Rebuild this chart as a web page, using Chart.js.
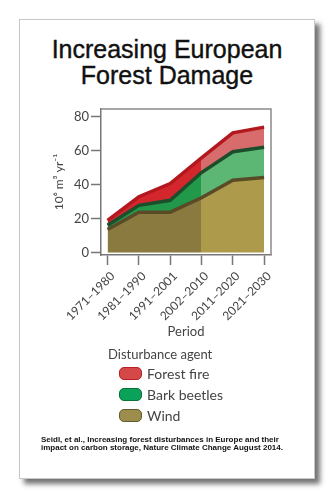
<!DOCTYPE html>
<html>
<head>
<meta charset="utf-8">
<script src="https://cdn.jsdelivr.net/npm/chart.js@4"></script>
<style>
  body { margin: 0; width: 335px; height: 499px; background: #fff; position: relative; overflow: hidden; }
  .card { position: absolute; left: 19px; top: 19px; width: 294px; height: 458px; border: 1px solid #c8c8c8; background: #fff; box-shadow: 5px 5px 5px rgba(0,0,0,0.55); }
  .title { position: absolute; left: 19px; top: 36px; width: 296px; text-align: center; font-family: "Liberation Sans", Arial, sans-serif; font-size: 25px; line-height: 26px; color: #111; -webkit-text-stroke: 0.4px #111; }
  #chart { position: absolute; left: 0; top: 0; }
  .legend { position: absolute; left: 108px; top: 346px; font-family: Lato, sans-serif; font-size: 13px; color: #444; }
  .row { position: absolute; left: 11px; width: 120px; height: 14px; }
  .sw { position: absolute; left: 0; top: 0; width: 21px; height: 11px; border-radius: 5px; border: 1px solid; }
  .lab { position: absolute; left: 28px; top: -2px; font-size: 14px; white-space: nowrap; }
  .cite { position: absolute; left: 41px; top: 436px; width: 260px; font-family: "Liberation Sans", Arial, sans-serif; font-weight: bold; font-size: 8px; line-height: 8px; color: #111; }
</style>
</head>
<body>
<div class="card"></div>
<div class="title">Increasing European<br>Forest Damage</div>
<canvas id="chart" width="335" height="499"></canvas>
<div class="legend">
  <div style="white-space:nowrap">Disturbance agent</div>
  <div class="row" style="top:21px"><div class="sw" style="background:#d44848;border-color:#b82126"></div><div class="lab">Forest fire</div></div>
  <div class="row" style="top:42px"><div class="sw" style="background:#0aa158;border-color:#0b7136"></div><div class="lab">Bark beetles</div></div>
  <div class="row" style="top:63px"><div class="sw" style="background:#9d8d4c;border-color:#625a2e"></div><div class="lab">Wind</div></div>
</div>
<div class="cite">Seidl, et al., Increasing forest disturbances in Europe and their impact on carbon storage, Nature Climate Change August 2014.</div>
<script>
const periods = ['1971–1980', '1981–1990', '1991–2001', '2002–2010', '2011–2020', '2021–2030'];
const wind = [13.5, 23.8, 23.8, 32.3, 42.7, 44.2];
const barkBeetles = [2.6, 4.0, 7.0, 14.9, 16.8, 17.9];
const forestFire = [2.9, 5.1, 9.9, 8.6, 11.1, 11.9];
const yTicks = [0, 20, 40, 60, 80];

// last observed period, projection starts after it
const splitIndex = 3;

const splitFill = (dark, light) => (ctx) => {
    const chart = ctx.chart;
    const area = chart.chartArea;
    if (!area) return dark;
    const x = chart.scales.x.getPixelForValue(splitIndex);
    const t = (x - area.left) / (area.right - area.left);
    const g = chart.ctx.createLinearGradient(area.left, 0, area.right, 0);
    g.addColorStop(0, dark);
    g.addColorStop(t, dark);
    g.addColorStop(t, light);
    g.addColorStop(1, light);
    return g;
};

const toPoints = (values) => values.map((v, i) => ({ x: i, y: v }));

const frame = {
    id: 'frame',
    afterDraw(chart) {
        const { ctx, chartArea: a } = chart;
        ctx.save();
        ctx.strokeStyle = '#8a8a8a';
        ctx.lineWidth = 1.5;
        ctx.beginPath();
        ctx.moveTo(a.left, a.top);
        ctx.lineTo(a.right, a.top);
        ctx.lineTo(a.right, a.bottom);
        ctx.stroke();
        ctx.restore();
    }
};

new Chart(document.getElementById('chart'), {
    type: 'line',
    data: {
        datasets: [
            { label: 'Wind', data: toPoints(wind), borderColor: '#5a4b27', backgroundColor: splitFill('#8b7a3f', '#ad9a4b'), fill: 'origin' },
            { label: 'Bark beetles', data: toPoints(barkBeetles), borderColor: '#1c4e2b', backgroundColor: splitFill('#22994a', '#5cb674'), fill: '-1' },
            { label: 'Forest fire', data: toPoints(forestFire), borderColor: '#b3181e', backgroundColor: splitFill('#d4272d', '#d86c6c'), fill: '-1' }
        ]
    },
    options: {
        responsive: false,
        animation: false,
        layout: { padding: { left: 40, top: 109, right: 64, bottom: 154 } },
        elements: {
            line: { borderWidth: 3.5, tension: 0 },
            point: { radius: 0 }
        },
        plugins: { legend: { display: false }, tooltip: { enabled: false } },
        scales: {
            x: {
                type: 'linear',
                min: -0.21,
                max: 5.22,
                afterBuildTicks: (scale) => { scale.ticks = periods.map((p, i) => ({ value: i })); },
                afterFit: (scale) => { scale.height = 90; },
                ticks: {
                    callback: (v) => periods[v],
                    minRotation: 45,
                    maxRotation: 45,
                    padding: 4,
                    labelOffset: 5,
                    color: '#444',
                    font: { family: 'Lato', size: 12 }
                },
                grid: { drawOnChartArea: false, tickLength: 10, tickColor: '#777', tickWidth: 1.5 },
                border: { color: '#777', width: 1.5 },
                title: { display: true, text: 'Period', color: '#444', font: { family: 'Lato', size: 13 }, padding: { top: 4, bottom: 5 } }
            },
            y: {
                stacked: true,
                min: -1.5,
                max: 84.7,
                afterBuildTicks: (scale) => { scale.ticks = yTicks.map(v => ({ value: v })); },
                afterFit: (scale) => { scale.width = 61; },
                ticks: { padding: 2, color: '#444', font: { family: 'Lato', size: 13 } },
                grid: { drawOnChartArea: false, tickLength: 10, tickColor: '#777', tickWidth: 1.5 },
                border: { color: '#777', width: 1.5 },
                title: { display: true, text: '10⁶ m³ yr⁻¹', color: '#444', font: { family: 'Lato', size: 12 }, padding: { top: 12, bottom: 0 } }
            }
        }
    },
    plugins: [frame]
});
</script>
</body>
</html>
